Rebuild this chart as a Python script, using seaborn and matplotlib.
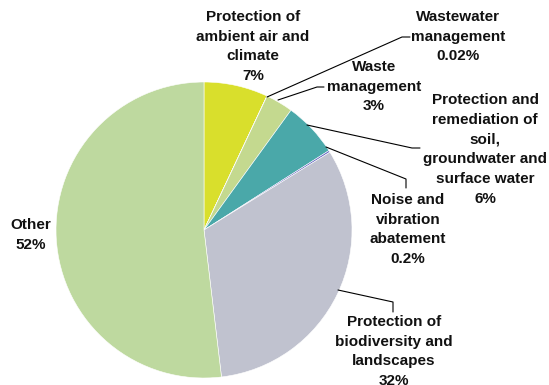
import matplotlib
matplotlib.use("Agg")
import matplotlib.pyplot as plt
import seaborn as sns

sns.set_theme(style="white")
plt.rcParams['font.family'] = ['Liberation Sans', 'DejaVu Sans']

categories = [
    "Protection of\nambient air and\nclimate",
    "Wastewater\nmanagement",
    "Waste\nmanagement",
    "Protection and\nremediation of\nsoil,\ngroundwater and\nsurface water",
    "Noise and\nvibration\nabatement",
    "Protection of\nbiodiversity and\nlandscapes",
    "Other",
]
values = [7, 0.02, 3, 6, 0.2, 32, 52]
value_labels = ["7%", "0.02%", "3%", "6%", "0.2%", "32%", "52%"]
colors = ["#d9df2c", "#4f81bd", "#c4d98f", "#4aa8a9", "#6a6bc4", "#c0c2cf", "#bed99f"]

W, H = 549, 385
fig = plt.figure(figsize=(W / 100, H / 100), dpi=100)
ax = fig.add_axes([0, 0, 1, 1])

def Y(y):
    return H - y

ax.pie(values, colors=colors, startangle=90, counterclock=False,
       center=(204, Y(230)), radius=148, frame=True,
       wedgeprops=dict(edgecolor="white", linewidth=0.4))
ax.set_xlim(0, W)
ax.set_ylim(0, H)
ax.set_aspect("auto")
ax.axis("off")

# label positions (center x, top y) in pixel coords
label_pos = [
    (253, 10),
    (458, 10),
    (374, 60),
    (485, 93),
    (408, 193),
    (394, 315),
    (31, 218),
]
for cat, vl, (x, y) in zip(categories, value_labels, label_pos):
    ax.text(x, Y(y), cat + "\n" + vl, ha="center", va="top",
            fontsize=11, fontweight="bold", color="#111111", linespacing=1.52)

# leader lines
leaders = [
    [(267, 97), (402, 37), (410, 37)],
    [(278, 100), (317, 87), (324, 87)],
    [(307, 125), (412, 148), (420, 148)],
    [(326, 147), (406, 179), (406, 188)],
    [(338, 290), (393, 302), (393, 312)],
]
for pts in leaders:
    xs = [p[0] for p in pts]
    ys = [Y(p[1]) for p in pts]
    ax.plot(xs, ys, color="black", linewidth=0.8)

fig.savefig("out.png", dpi=100)
